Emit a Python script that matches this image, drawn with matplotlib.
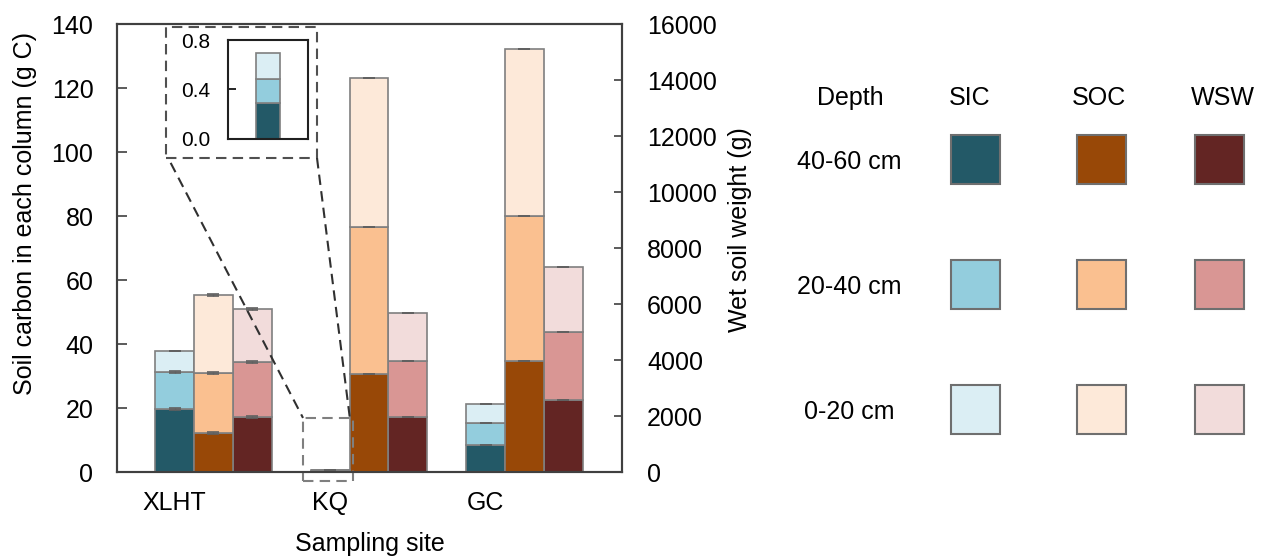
import numpy as np
import matplotlib
matplotlib.use('Agg')
import matplotlib.pyplot as plt
from matplotlib.patches import Rectangle

plt.rcParams['font.family'] = ['Liberation Sans', 'DejaVu Sans']
plt.rcParams['font.size'] = 18

# data (layers from bottom: 40-60, 20-40, 0-20 cm)
sites = ['XLHT', 'KQ', 'GC']
depths = ['40-60 cm', '20-40 cm', '0-20 cm']
groups = ['SIC', 'SOC', 'WSW']

sic = np.array([[19.7, 11.55, 6.55], [0.29, 0.195, 0.21], [8.4, 6.9, 5.95]])
soc = np.array([[12.2, 18.7, 24.4], [30.6, 46.0, 46.5], [34.7, 45.3, 52.2]])
wsw = np.array([[1960, 1970, 1890], [1960, 2000, 1715], [2570, 2430, 2320]])

sic_err = np.array([[0.4, 0.4, 0.0], [0.0, 0.0, 0.0], [0.0, 0.0, 0.0]])
soc_err = np.array([[0.4, 0.4, 0.3], [0.0, 0.0, 0.0], [0.0, 0.0, 0.0]])
wsw_err = np.array([[40, 40, 30], [0, 0, 0], [0, 0, 0]])

sic_colors = ['#235967', '#93CDDD', '#DBEEF4']
soc_colors = ['#984807', '#FAC090', '#FDE9D9']
wsw_colors = ['#632523', '#D99694', '#F2DCDB']
edge = '#7f7f7f'

fig = plt.figure(figsize=(12.63, 5.57), dpi=100)

# legend grid drawn in pixel space
lg = fig.add_axes([0, 0, 1, 1])
lg.set_xlim(0, 1263)
lg.set_ylim(557, 0)
lg.axis('off')
hdr_x = [850, 970, 1099, 1223]
for hx, h in zip(hdr_x, ['Depth'] + groups):
    lg.text(hx, 98, h, ha='center', va='center', fontsize=18)
row_y = [159, 284, 409]
for ry, d in zip(row_y, depths):
    lg.text(849, ry + 3, d, ha='center', va='center', fontsize=18)
col_x = [975, 1101, 1219]
for cx, cols in zip(col_x, [sic_colors, soc_colors, wsw_colors]):
    for ry, c in zip(row_y, cols):
        lg.add_patch(Rectangle((cx - 24.5, ry - 24.5), 49, 49, facecolor=c,
                               edgecolor='#6f6f6f', lw=1.5))

# main axes
ax = fig.add_axes([117 / 1263, 85 / 557, 505 / 1263, 448 / 557])
ax2 = ax.twinx()
ax.set_zorder(ax2.get_zorder() + 1)
ax.patch.set_visible(False)

x = np.arange(len(sites))
w = 0.25
ekw = dict(ecolor='#606060', elinewidth=1, capthick=1.2)
for k in range(3):
    ax.bar(x - w, sic[:, k], w, bottom=sic[:, :k].sum(axis=1), color=sic_colors[k],
           edgecolor=edge, lw=1.2, yerr=sic_err[:, k], capsize=4, error_kw=ekw)
    ax.bar(x, soc[:, k], w, bottom=soc[:, :k].sum(axis=1), color=soc_colors[k],
           edgecolor=edge, lw=1.2, yerr=soc_err[:, k], capsize=4, error_kw=ekw)
    ax2.bar(x + w, wsw[:, k], w, bottom=wsw[:, :k].sum(axis=1), color=wsw_colors[k],
            edgecolor=edge, lw=1.2, yerr=wsw_err[:, k], capsize=4, error_kw=ekw)

ax.set_xlim(-0.62, 2.627)
ax.set_ylim(0, 140)
ax.set_yticks(np.arange(0, 141, 20))
ax2.set_ylim(0, 16000)
ax2.set_yticks(np.arange(0, 16001, 2000))
ax.set_xticks(x - w)
ax.set_xticklabels(sites)
ax.tick_params(axis='x', length=0, pad=14)
ax.tick_params(axis='y', direction='in', length=7, width=1.2, color='#404040', pad=17)
ax2.tick_params(axis='y', direction='in', length=6, width=1.2, color='#404040', pad=18)
for a in (ax, ax2):
    for s in a.spines.values():
        s.set_color('#404040')
        s.set_linewidth(1.5)

ax.set_ylabel('Soil carbon in each column (g C)')
ax.yaxis.set_label_coords(-0.158, 0.578)
ax2.set_ylabel('Wet soil weight (g)')
ax2.yaxis.set_label_coords(1.21, 0.54)
ax.set_xlabel('Sampling site')
ax.xaxis.set_label_coords(0.5, -0.135)

# zoom boxes and connector lines
big_box = (-0.305, 0.666, 98.1, 139.1)
small_box = (0.576, 0.897, -2.8, 16.9)
ax.add_patch(Rectangle((big_box[0], big_box[2]), big_box[1] - big_box[0],
                       big_box[3] - big_box[2], fill=False, edgecolor='#505050',
                       lw=1.5, ls=(0, (5, 3)), clip_on=False))
ax.add_patch(Rectangle((small_box[0], small_box[2]), small_box[1] - small_box[0],
                       small_box[3] - small_box[2], fill=False, edgecolor='#7f7f7f',
                       lw=1.5, ls=(0, (5, 3)), clip_on=False))
ax.plot([big_box[0] + 0.03, small_box[0]], [big_box[2] - 1.5, small_box[3]],
        color='#303030', lw=1.5, ls=(0, (5, 3)), clip_on=False)
ax.plot([big_box[1], small_box[1] - 0.02], [big_box[2], small_box[3]],
        color='#303030', lw=1.5, ls=(0, (5, 3)), clip_on=False)

# inset with the small KQ SIC bar
ins = fig.add_axes([228 / 1263, (557 - 139) / 557, 80 / 1263, 99 / 557])
for k in range(3):
    ins.bar([0], [sic[1, k]], 0.29, bottom=[sic[1, :k].sum()], color=sic_colors[k],
            edgecolor=edge, lw=1.2)
ins.set_xlim(-0.5, 0.5)
ins.set_ylim(0, 0.8)
ins.set_yticks([0.0, 0.4, 0.8])
ins.set_yticklabels(['0.0', '0.4', '0.8'])
ins.set_xticks([])
ins.tick_params(axis='y', direction='in', length=6, width=1.2, labelsize=15, pad=13)
for s in ins.spines.values():
    s.set_color('#202020')
    s.set_linewidth(1.5)

fig.savefig('out.png', dpi=100)
